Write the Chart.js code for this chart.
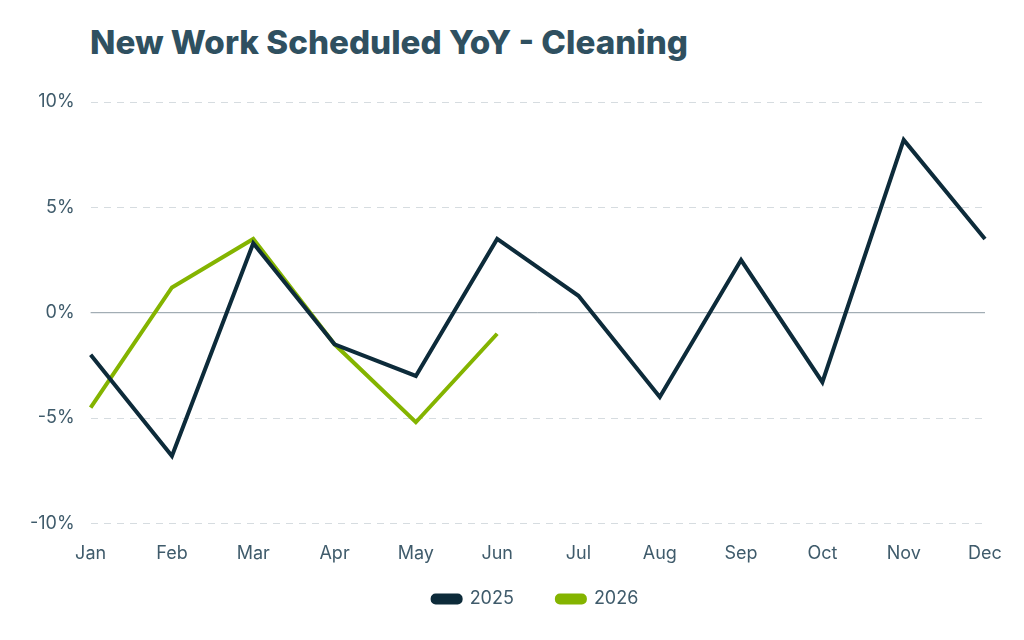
<!DOCTYPE html>
<html lang="en">
<head>
  <meta charset="UTF-8" />
  <title>New Work Scheduled YoY - Cleaning</title>
  <script src="https://cdn.jsdelivr.net/npm/chart.js"></script>
  <style>
    body {
      margin: 0;
      padding: 0;
      background: #ffffff;
      font-family: Inter, sans-serif;
    }

    .wrap {
      position: relative;
      width: 1024px;
      height: 640px;
    }

    h1 {
      position: absolute;
      left: 90px;
      top: 22px;
      margin: 0;
      font-size: 33.2px;
      font-weight: 800;
      color: #2f5060;
    }

    canvas {
      position: absolute;
      left: 0;
      top: 0;
    }
  </style>
</head>
<body>

  <div class="wrap">
    <h1>New Work Scheduled YoY - Cleaning</h1>
    <canvas id="chartYoY" width="1024" height="640"></canvas>
  </div>

  <script>
    const months = ['Jan', 'Feb', 'Mar', 'Apr', 'May', 'Jun', 'Jul', 'Aug', 'Sep', 'Oct', 'Nov', 'Dec'];
    const values2025 = [-2.0, -6.8, 3.3, -1.5, -3.0, 3.5, 0.8, -4.0, 2.5, -3.3, 8.2, 3.5];
    const values2026 = [-4.5, 1.2, 3.5, -1.5, -5.2, -1.0];
    const yTicks = [-10, -5, 0, 5, 10];

    const tickColor = '#3f5b6b';
    const tickFont = { family: 'Inter', size: 18 };
    const legendTrim = 7;   // px taken off the legend box height
    const legendLift = 28;  // px the legend is moved up after layout
    const legendShift = 36; // px the legend is moved right (centred on plot area)

    // solid line at 0%, under the data
    const zeroLine = {
      id: 'zeroLine',
      beforeDatasetsDraw(chart) {
        const { ctx, chartArea, scales } = chart;
        const y = scales.y.getPixelForValue(0);
        ctx.save();
        ctx.strokeStyle = '#8d9ba3';
        ctx.lineWidth = 1;
        ctx.beginPath();
        ctx.moveTo(chartArea.left, y);
        ctx.lineTo(chartArea.right, y);
        ctx.stroke();
        ctx.restore();
      }
    };

    // wide gap between legend items, but sit the legend closer to the axis
    const legendBox = {
      id: 'legendBox',
      beforeInit(chart) {
        const fit = chart.legend.fit;
        chart.legend.fit = function () {
          fit.call(this);
          this.height -= legendTrim;
        };
      },
      afterLayout(chart) {
        const lg = chart.legend;
        lg.top -= legendLift;
        lg.bottom -= legendLift;
        lg.left += legendShift;
        lg.right += legendShift;
      }
    };

    const ctx = document.getElementById('chartYoY').getContext('2d');
    new Chart(ctx, {
      type: 'line',
      data: {
        labels: months,
        datasets: [
          {
            label: '2025',
            data: values2025,
            borderColor: '#0d2b3a',
            backgroundColor: '#0d2b3a',
            borderWidth: 4,
            pointRadius: 0,
            tension: 0
          },
          {
            label: '2026',
            data: values2026,
            borderColor: '#84b400',
            backgroundColor: '#84b400',
            borderWidth: 4,
            pointRadius: 0,
            tension: 0
          }
        ]
      },
      options: {
        responsive: false,
        animation: false,
        layout: {
          padding: { top: 102, left: 14, right: 39, bottom: 1 }
        },
        scales: {
          x: {
            offset: false,
            grid: { display: false },
            border: { display: false },
            ticks: {
              color: tickColor,
              font: tickFont,
              padding: 11,
              maxRotation: 0
            }
          },
          y: {
            min: -10,
            max: 10,
            afterBuildTicks: (scale) => {
              scale.ticks = yTicks.map(v => ({ value: v }));
            },
            grid: {
              color: (c) => c.tick && c.tick.value === 0 ? 'rgba(0,0,0,0)' : '#d6dce0',
              lineWidth: 1,
              drawTicks: false
            },
            border: { display: false, dash: [7, 6] },
            ticks: {
              color: tickColor,
              font: tickFont,
              padding: 16,
              callback: (v) => v + '%'
            }
          }
        },
        plugins: {
          legend: {
            position: 'bottom',
            labels: {
              color: tickColor,
              font: tickFont,
              boxWidth: 28,
              boxHeight: 7,
              useBorderRadius: true,
              borderRadius: 3,
              padding: 43
            }
          },
          tooltip: { enabled: false }
        }
      },
      plugins: [zeroLine, legendBox]
    });
  </script>
</body>
</html>
